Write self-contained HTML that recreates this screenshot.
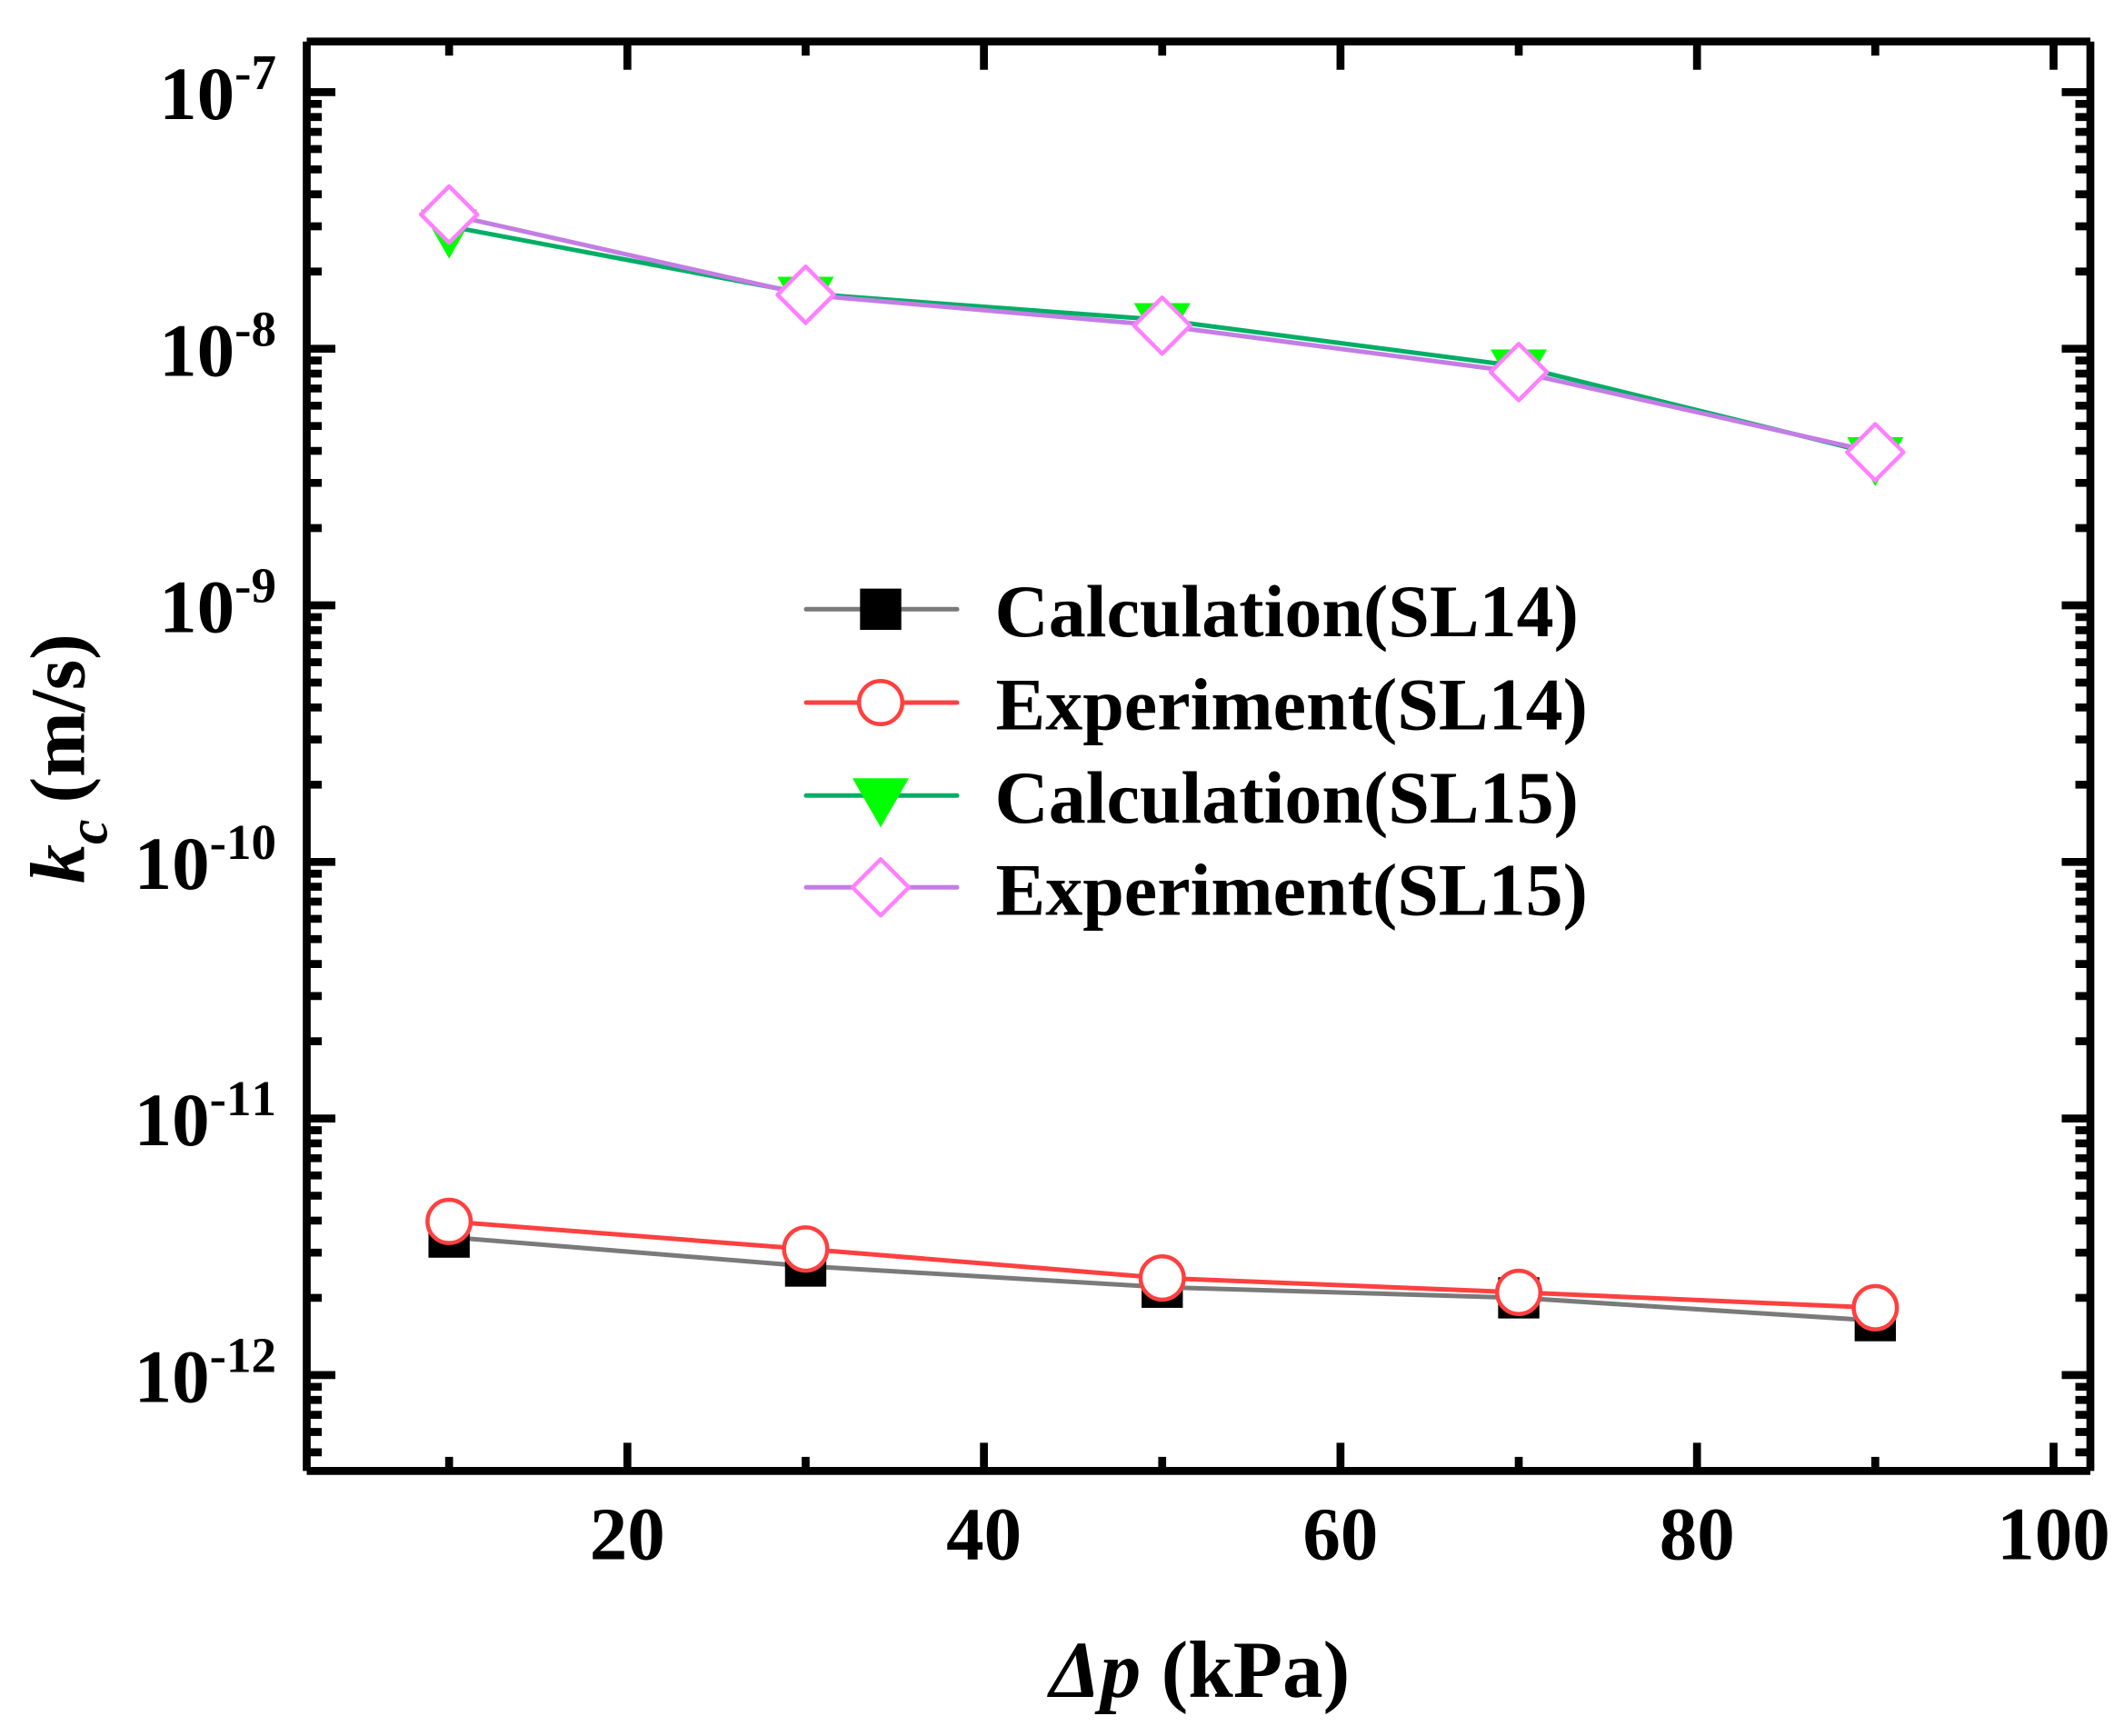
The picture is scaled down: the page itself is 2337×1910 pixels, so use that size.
<!DOCTYPE html>
<html lang="en">
<head>
<meta charset="utf-8">
<title>kc vs pressure difference chart</title>
<style>
html,body{margin:0;padding:0;background:#fff;}
svg{display:block;}
text{font-family:"Liberation Serif","Times New Roman",serif;font-weight:bold;fill:#000;font-kerning:none;}
</style>
</head>
<body>
<svg id="chart" xmlns="http://www.w3.org/2000/svg" width="2337" height="1910" viewBox="0 0 2337 1910">
  <rect x="0" y="0" width="2337" height="1910" fill="#ffffff"/>
  <g id="grid-ticks"></g>
  <g id="frame"></g>
  <g id="tick-labels"></g>
  <g id="series"></g>

  <text x="1155" y="1867" font-size="89"><tspan font-style="italic">Δp</tspan> (kPa)</text>
  <text transform="translate(92.7,972) rotate(-90)" font-size="86"><tspan font-style="italic">k</tspan><tspan font-style="italic" font-size="62" dy="25">c</tspan><tspan dy="-25" dx="18">(m/s)</tspan></text>

  <g>
    <g>
      <line x1="887" y1="670.3" x2="1053" y2="670.3" stroke="#7a7a7a" stroke-width="5" stroke-linecap="round"/>
      <rect x="946.3" y="647.6" width="45.4" height="45.4" fill="#000"/>
      <text x="1094.5" y="700" font-size="82">Calculation(SL14)</text>
    </g>
    <g>
      <line x1="887" y1="773" x2="1053" y2="773" stroke="#ff4040" stroke-width="5" stroke-linecap="round"/>
      <circle cx="969" cy="773" r="23.8" fill="#fff" stroke="#ff4040" stroke-width="4.5"/>
      <text x="1095.5" y="802.7" font-size="82">Experiment(SL14)</text>
    </g>
    <g>
      <line x1="887" y1="875.3" x2="1053" y2="875.3" stroke="#00ae66" stroke-width="5" stroke-linecap="round"/>
      <polygon points="938,856.3 1000,856.3 969,910.3" fill="#00ff00"/>
      <text x="1094.5" y="905" font-size="82">Calculation(SL15)</text>
    </g>
    <g>
      <line x1="887" y1="976.3" x2="1053" y2="976.3" stroke="#c47de4" stroke-width="5" stroke-linecap="round"/>
      <polygon points="969,945.3 1000,976.3 969,1007.3 938,976.3" fill="#fff" stroke="#ff80ff" stroke-width="4.5" stroke-linejoin="round"/>
      <text x="1095.5" y="1006.7" font-size="82">Experiment(SL15)</text>
    </g>
  </g>
</svg>

<script>
// ---- chart data ----
var pressures = [10, 30, 50, 70, 90];
var calculationSL14 = [3.45e-12, 2.66e-12, 2.20e-12, 2.00e-12, 1.63e-12];
var experimentSL14 = [3.97e-12, 3.10e-12, 2.39e-12, 2.10e-12, 1.83e-12];
var calculationSL15 = [3.00e-8, 1.64e-8, 1.295e-8, 8.54e-9, 3.89e-9];
var experimentSL15 = [3.336e-8, 1.624e-8, 1.23e-8, 8.11e-9, 3.95e-9];
var xMajorTicks = [20, 40, 60, 80, 100];
var xMinorTicks = [10, 30, 50, 70, 90];
var yDecadeExponents = [-7, -8, -9, -10, -11, -12];
var yMinorMultipliers = [2, 3, 4, 5, 6, 7, 8, 9];

// ---- plot geometry & axis functions ----
var SVGNS = 'http://www.w3.org/2000/svg';
var plotLeft = 337.5, plotRight = 2300, plotTop = 45.7, plotBottom = 1618.4;
var AXIS_W = 8.7;
function xScale(v) { return 690.3 + (v - 20) * 19.615; }
function yScale(v) { return 101.4 + (-7 - Math.log10(v)) * 282.3; }

function make(tag, attrs, parent) {
  var el = document.createElementNS(SVGNS, tag);
  for (var k in attrs) { el.setAttribute(k, attrs[k]); }
  parent.appendChild(el);
  return el;
}

var ticksG = document.getElementById('grid-ticks');
var frameG = document.getElementById('frame');
var labelsG = document.getElementById('tick-labels');
var seriesG = document.getElementById('series');

// frame
[
  ['left-axis-line', plotLeft, plotTop, plotLeft, plotBottom],
  ['right-axis-line', plotRight, plotTop, plotRight, plotBottom],
  ['top-axis-line', plotLeft, plotTop, plotRight, plotTop],
  ['bottom-axis-line', plotLeft, plotBottom, plotRight, plotBottom]
].forEach(function (s) {
  var l = make('line', { x1: s[1], y1: s[2], x2: s[3], y2: s[4], stroke: '#000', 'stroke-width': AXIS_W }, frameG);
  
  
});

function xTick(v, len, name) {
  var x = xScale(v);
  var b = make('line', { x1: x, y1: plotBottom, x2: x, y2: plotBottom - len, stroke: '#000', 'stroke-width': AXIS_W }, ticksG);
  
  
  var t = make('line', { x1: x, y1: plotTop, x2: x, y2: plotTop + len, stroke: '#000', 'stroke-width': AXIS_W }, ticksG);
  
  
}
function yTick(v, len, name) {
  var y = yScale(v);
  var l = make('line', { x1: plotLeft, y1: y, x2: plotLeft + len, y2: y, stroke: '#000', 'stroke-width': AXIS_W }, ticksG);
  
  
  var r = make('line', { x1: plotRight, y1: y, x2: plotRight - len, y2: y, stroke: '#000', 'stroke-width': AXIS_W }, ticksG);
  
  
}

xMajorTicks.forEach(function (v) {
  xTick(v, 31, 'x-major-tick');
  var t = make('text', { x: xScale(v), y: 1715.6, 'font-size': 83, 'text-anchor': 'middle' }, labelsG);
  
  
  t.textContent = String(v);
});
xMinorTicks.forEach(function (v) {
  xTick(v, 15.5, 'x-minor-tick');
});

yDecadeExponents.forEach(function (e) {
  var base = Math.pow(10, e);
  yTick(base, 31.5, 'y-major-tick');
  yMinorMultipliers.forEach(function (m) {
    var y = yScale(m * base);
    if (y > plotTop + 6 && y < plotBottom - 6) { yTick(m * base, 16.5, 'y-minor-tick'); }
  });
  for (var m = 2; m <= 9; m++) {
    var yLow = yScale(m * base / 10);
    if (e === -12 && yLow < plotBottom - 6) { yTick(m * base / 10, 16.5, 'y-minor-tick'); }
  }
  var y0 = yScale(base);
  var t = make('text', { x: 304, y: y0 + 29.6, 'text-anchor': 'end', 'font-size': 83 }, labelsG);
  
  
  var a = make('tspan', {}, t);
  a.textContent = '10';
  var b = make('tspan', { 'font-size': 55, dy: -33 }, t);
  b.textContent = String(e);
});

// series
function drawLine(values, color, name) {
  var pts = values.map(function (v, i) { return xScale(pressures[i]).toFixed(1) + ',' + yScale(v).toFixed(1); }).join(' ');
  var l = make('polyline', { points: pts, fill: 'none', stroke: color, 'stroke-width': 5, 'stroke-linejoin': 'round' }, seriesG);
  
  
}

drawLine(calculationSL14, '#7a7a7a', 'line-calculation-sl14');
calculationSL14.forEach(function (v, i) {
  var x = xScale(pressures[i]), y = yScale(v);
  var m = make('rect', { x: x - 22.7, y: y - 22.7, width: 45.4, height: 45.4, fill: '#000' }, seriesG);
  
  
});
drawLine(experimentSL14, '#ff4040', 'line-experiment-sl14');
experimentSL14.forEach(function (v, i) {
  var x = xScale(pressures[i]), y = yScale(v);
  var m = make('circle', { cx: x, cy: y, r: 23.8, fill: '#fff', stroke: '#ff4040', 'stroke-width': 4.5 }, seriesG);
  
  
});
calculationSL15.forEach(function (v, i) {
  var x = xScale(pressures[i]), y = yScale(v);
  var pts = [(x - 31) + ',' + (y - 18.5), (x + 31) + ',' + (y - 18.5), x + ',' + (y + 35.5)].join(' ');
  var m = make('polygon', { points: pts, fill: '#00ff00' }, seriesG);
  
  
});
drawLine(calculationSL15, '#00ae66', 'line-calculation-sl15');
drawLine(experimentSL15, '#c47de4', 'line-experiment-sl15');
experimentSL15.forEach(function (v, i) {
  var x = xScale(pressures[i]), y = yScale(v);
  var pts = [x + ',' + (y - 31), (x + 31) + ',' + y, x + ',' + (y + 31), (x - 31) + ',' + y].join(' ');
  var m = make('polygon', { points: pts, fill: '#fff', stroke: '#ff80ff', 'stroke-width': 4.5, 'stroke-linejoin': 'round' }, seriesG);
  
  
});
</script>
</body>
</html>
